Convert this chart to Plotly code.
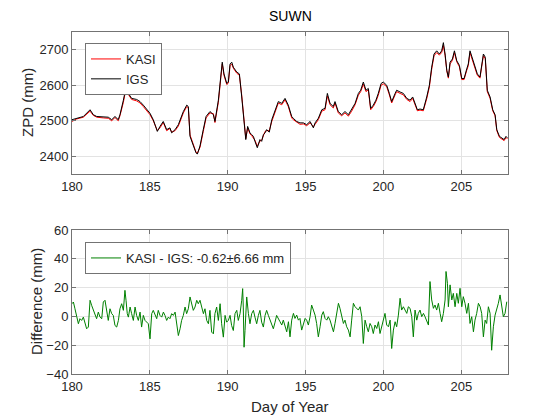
import plotly.graph_objects as go

# ---------------- data ----------------
top_days = [180.0,180.30,180.73,181.16,181.37,181.59,182.01,182.33,182.55,182.76,
            182.97,183.08,183.30,183.47,183.62,183.83,184.15,184.37,184.58,184.80,
            185.01,185.22,185.48,185.65,185.86,186.08,186.29,186.40,186.62,186.83,
            187.05,
            187.15,187.37,187.47,187.58,187.79,187.96,188.05,188.22,188.43,188.61,
            188.86,189.08,189.18,189.40,189.55,189.65,189.76,189.94,190.04,190.15,
            190.26,190.36,190.58,190.75,190.90,191.07,191.16,191.28,191.43,191.54,
            191.65,191.75,191.90,192.07,192.18,192.29,192.40,192.50,192.67,192.83,
            193.04,193.25,193.47,193.68,193.89,194.11,
            194.21,194.43,194.64,194.86,195.07,195.29,195.50,195.61,195.82,196.04,
            196.25,196.40,196.57,196.78,196.89,197.10,197.32,197.53,197.75,197.96,
            198.18,198.39,198.54,198.71,198.88,199.03,199.18,199.35,199.52,199.67,
            199.85,199.99,200.21,200.38,200.53,200.75,200.85,201.07,
            201.28,201.50,201.71,201.88,202.03,202.18,202.35,202.56,202.78,202.95,
            203.10,203.25,203.42,203.59,203.74,203.85,203.96,204.07,204.17,204.28,
            204.43,204.56,204.71,204.88,205.03,205.18,205.35,205.45,205.56,205.74,
            205.88,206.03,206.20,206.31,206.42,206.54,206.67,206.85,207.02,207.17,
            207.28,207.45,207.60,207.75,207.87,207.96]

igs_zpd = [2503,2507,2512,2531,2517,2512,2512,2510,2503,2512,
           2503,2517,2558,2595,2577,2563,2560,2554,2544,2531,
           2521,2503,2470,2484,2498,2475,2480,2466,2475,2489,
           2517,
           2526,2544,2540,2456,2433,2410,2406,2429,2475,2512,
           2526,2517,2498,2558,2623,2665,2632,2605,2609,2660,
           2665,2651,2637,2632,2567,2475,2447,2484,2466,2461,
           2456,2442,2424,2447,2442,2461,2466,2475,2468,2503,
           2526,2554,2549,2563,2544,2512,
           2507,2498,2494,2494,2489,2498,2480,2494,2507,2531,
           2535,2577,2549,2540,2554,2526,2517,2526,2517,2531,
           2549,2577,2586,2609,2586,2591,2535,2544,2558,2577,
           2605,2609,2600,2577,2554,2577,2586,2581,
           2577,2563,2558,2567,2549,2531,2533,2531,2567,2600,
           2651,2688,2697,2688,2697,2720,2688,2642,2623,2665,
           2674,2697,2669,2656,2619,2619,2646,2660,2697,2674,
           2651,2632,2623,2656,2688,2679,2586,2567,2531,2517,
           2475,2456,2452,2447,2456,2452]

kasi_zpd = [2498,2505,2510,2527,2515,2510,2508,2507,2500,2509,
            2500,2514,2552,2590,2574,2560,2556,2550,2540,2528,
            2517,2500,2472,2480,2495,2472,2478,2468,2472,2485,
            2512,
            2522,2540,2537,2460,2430,2412,2408,2425,2470,2508,
            2522,2520,2495,2552,2618,2660,2628,2602,2606,2655,
            2660,2648,2634,2628,2572,2478,2450,2480,2463,2458,
            2452,2445,2428,2443,2445,2458,2470,2472,2472,2498,
            2522,2550,2545,2559,2540,2508,
            2503,2495,2490,2491,2486,2494,2483,2490,2503,2527,
            2531,2570,2545,2536,2550,2522,2514,2522,2513,2527,
            2545,2572,2582,2603,2582,2587,2531,2540,2554,2572,
            2600,2604,2596,2573,2550,2573,2582,2577,
            2573,2560,2554,2563,2546,2528,2530,2528,2562,2595,
            2645,2683,2692,2685,2692,2712,2684,2640,2620,2660,
            2670,2692,2666,2652,2616,2616,2642,2655,2692,2670,
            2648,2628,2620,2652,2683,2675,2582,2563,2528,2514,
            2472,2453,2449,2444,2453,2449]

diff_days = [180.00,180.09,180.19,180.30,180.41,180.51,180.62,180.73,180.83,180.94,
             181.05,181.16,181.26,181.37,181.48,181.58,181.69,181.80,181.91,182.01,
             182.12,182.23,182.33,182.44,182.55,182.65,182.76,182.87,182.98,183.08,
             183.19,183.30,183.40,183.47,183.55,183.62,183.73,183.83,183.94,184.05,
             184.15,184.26,184.37,184.47,184.58,184.69,184.80,184.90,185.01,185.12,
             185.22,185.33,185.44,185.54,185.65,185.76,185.87,185.97,186.08,186.19,
             186.29,186.40,186.51,186.62,186.72,186.83,186.94,187.04,187.15,187.26,
             187.36,187.47,187.58,187.69,187.79,187.90,188.01,188.11,188.22,188.33,
             188.44,188.54,188.65,188.76,188.86,188.97,189.08,189.18,189.29,189.40,
             189.51,189.61,189.72,189.83,189.93,190.04,190.15,190.25,190.36,190.47,
             190.58,190.68,190.79,190.90,190.96,191.00,191.05,191.11,191.22,191.33,
             191.43,191.54,191.65,191.75,191.86,191.97,192.07,192.18,192.29,192.40,
             192.50,192.61,192.72,192.82,192.93,193.04,193.14,
             193.36,193.47,193.57,193.68,193.79,193.90,194.00,194.11,194.22,194.32,
             194.43,194.54,194.64,194.75,194.86,194.97,195.07,195.18,195.29,195.39,
             195.50,195.61,195.71,195.82,195.93,196.04,196.14,196.25,196.36,196.46,
             196.57,196.68,196.79,196.89,197.00,197.11,197.21,197.32,197.43,197.53,
             197.64,197.75,197.86,197.96,198.07,198.18,198.28,198.39,198.50,198.61,
             198.71,198.82,198.93,199.03,199.14,199.25,199.35,199.46,199.57,199.68,
             199.78,199.89,200.00,200.10,200.21,200.32,200.43,200.53,200.64,200.75,
             200.85,200.96,201.07,201.17,201.28,201.39,201.50,201.60,201.71,201.82,
             201.92,202.03,202.14,202.24,202.35,202.46,202.57,202.67,202.78,202.89,
             202.99,203.10,203.21,203.31,203.42,203.53,203.64,203.74,203.85,203.96,
             204.02,204.11,
             204.17,204.28,204.39,204.49,204.60,204.71,204.81,204.92,205.03,205.13,
             205.24,205.35,205.46,205.56,205.67,205.78,205.88,205.99,206.10,206.21,
             206.31,206.42,206.53,206.63,206.74,206.85,206.95,207.06,207.17,207.28,
             207.38,207.49,207.60,207.70,207.81,207.92]

diff_mm = [8.8,10.0,5.3,0.7,-5.1,-1.6,-2.8,-0.5,-5.1,-8.6,
           -7.4,11.2,7.7,4.2,0.7,-1.6,3.0,-0.5,-1.6,10.0,
           11.2,1.9,-2.8,5.3,1.9,0.7,-6.3,-7.4,-2.8,5.3,
           8.8,4.2,18.1,11.2,1.9,-0.5,6.5,1.9,-2.8,6.5,
           0.7,-2.8,3.0,-7.4,0.7,-2.8,-4.0,-5.1,-15.6,1.9,
           4.2,0.7,-1.6,4.2,0.7,-0.5,3.0,0.7,-2.8,-0.5,
           -1.6,1.9,0.7,3.0,-5.1,-13.3,-8.6,-2.8,0.7,6.5,
           1.9,5.3,13.5,8.8,4.2,6.5,11.2,8.8,11.2,6.5,
           1.9,5.3,-2.8,-5.1,4.2,-10.9,-12.1,1.9,6.5,-2.8,
           8.8,-5.1,-14.4,0.7,-4.0,-2.8,0.7,-6.3,-9.8,1.9,
           4.2,-2.8,1.9,11.2,19.3,6.5,-21.4,-9.8,13.5,1.9,
           -5.1,1.9,4.2,-0.5,-5.1,0.7,4.2,-4.0,-7.4,0.7,
           4.2,0.7,-2.8,-5.1,-8.6,-4.0,0.7,
           -3.7,-6.0,-2.6,-7.2,-10.7,-3.7,-14.2,-2.6,2.1,-1.4,
           0.9,-2.6,-1.4,-9.5,-4.9,-1.4,-2.6,-6.0,-0.2,7.9,
           4.4,0.9,-4.9,-14.2,-7.2,0.9,3.3,-1.4,-2.6,-0.2,
           -2.6,-6.0,-10.7,-4.9,2.1,9.1,5.6,0.9,-4.9,-2.6,
           -7.2,-9.5,-14.2,-2.6,9.1,6.7,5.6,4.4,6.7,-0.2,
           -18.8,-2.6,-7.2,-10.7,-4.9,-7.2,-11.9,-6.0,-8.4,-3.7,
           -11.9,-7.2,-1.4,2.1,-6.0,-7.2,-2.6,-22.3,-9.5,-3.7,
           -7.2,0.9,12.6,4.4,6.7,4.4,2.1,6.7,5.6,-0.2,
           -14.2,4.4,-2.6,2.1,4.4,-0.2,2.1,-0.2,-3.7,-6.0,
           24.2,11.4,5.6,7.9,4.4,9.1,2.1,-3.7,2.1,11.4,
           31.2,23.0,
           6.7,21.9,11.4,16.0,6.7,16.0,9.1,19.5,6.7,13.7,
           9.1,2.1,9.1,-4.9,-0.2,-10.7,-2.6,2.1,9.1,6.7,
           2.1,-14.2,-2.6,-4.9,6.7,2.1,-23.5,-7.2,0.9,4.4,
           9.1,14.9,6.7,-0.2,2.1,10.2]

x_ticks = [180, 185, 190, 195, 200, 205]
zpd_ticks = [2400, 2500, 2600, 2700]
diff_ticks = [-40, -20, 0, 20, 40, 60]

title_text = "SUWN"
diff_label = "KASI - IGS: -0.62\u00b16.66 mm"

# ---------------- figure ----------------
FONT = "Liberation Sans, Arial, Helvetica, sans-serif"
AX = "#737373"
TXT = "#262626"
GRID = "#e3e3e3"

fig = go.Figure()
fig.add_trace(go.Scatter(x=top_days, y=kasi_zpd, mode="lines", name="KASI",
                         line=dict(color="#ff0000", width=1), xaxis="x", yaxis="y"))
fig.add_trace(go.Scatter(x=top_days, y=igs_zpd, mode="lines", name="IGS",
                         line=dict(color="#000000", width=1), xaxis="x", yaxis="y"))
fig.add_trace(go.Scatter(x=diff_days, y=diff_mm, mode="lines", name=diff_label,
                         line=dict(color="#008000", width=1), xaxis="x2", yaxis="y2",
                         legend="legend2"))

axis_common = dict(showline=True, linecolor=AX, linewidth=1, mirror="allticks",
                   ticks="inside", ticklen=4, tickcolor=AX, tickwidth=1,
                   showgrid=True, gridcolor=GRID, gridwidth=1, zeroline=False,
                   automargin=False,
                   tickfont=dict(family=FONT, size=13, color=TXT))

def note(text, x, y, size, color=TXT, angle=0):
    return dict(text=text, x=x/560, y=1-y/420, xref="paper", yref="paper",
                xanchor="center", yanchor="middle", showarrow=False,
                textangle=angle, font=dict(family=FONT, size=size, color=color))

fig.update_layout(
    width=560, height=420,
    margin=dict(l=0, r=0, t=0, b=0, pad=0),
    paper_bgcolor="white", plot_bgcolor="white",
    xaxis=dict(domain=[72/560, 508/560], range=[180, 208], tickvals=x_ticks,
               anchor="y", **axis_common),
    yaxis=dict(domain=[1-174/420, 1-32/420], range=[2350, 2750], tickvals=zpd_ticks,
               anchor="x", **axis_common),
    xaxis2=dict(domain=[72/560, 508/560], range=[180, 208], tickvals=x_ticks,
                anchor="y2", **axis_common),
    yaxis2=dict(domain=[1-374/420, 1-230/420], range=[-40, 60], tickvals=diff_ticks,
                anchor="x2", **axis_common),
    legend=dict(x=85/560, y=1-43/420, xanchor="left", yanchor="top",
                bgcolor="white", bordercolor=AX, borderwidth=1,
                font=dict(family=FONT, size=13, color=TXT),
                tracegroupgap=0, itemwidth=30),
    legend2=dict(x=85/560, y=1-242/420, xanchor="left", yanchor="top",
                 bgcolor="white", bordercolor=AX, borderwidth=1,
                 font=dict(family=FONT, size=13, color=TXT), itemwidth=30),
    showlegend=True,
    annotations=[
        note(title_text, 290, 16, 14, color="black"),
        note("ZPD (mm)", 27, 103, 15, angle=-90),
        note("Difference (mm)", 36, 302, 15, angle=-90),
        note("Day of Year", 290, 406, 15),
    ],
)

fig.write_html("out.html", config={"displayModeBar": False},
               post_script="document.body.style.margin='0';document.body.style.padding='0';")
